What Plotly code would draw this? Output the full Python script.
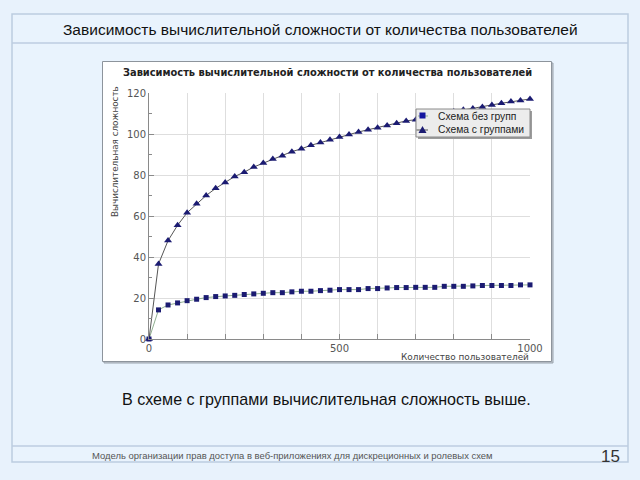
import plotly.graph_objects as go

users = [0, 25, 50, 75, 100, 125, 150, 175, 200, 225, 250, 275, 300, 325, 350, 375, 400,
         425, 450, 475, 500, 525, 550, 575, 600, 625, 650, 675, 700, 725, 750, 775, 800,
         825, 850, 875, 900, 925, 950, 975, 1000]
no_groups = [0, 14.2, 16.6, 17.6, 18.7, 19.4, 20.2, 20.7, 21.0, 21.3, 21.7, 22.0, 22.3, 22.6,
             22.6, 23.0, 23.3, 23.3, 23.6, 23.8, 24.1, 24.1, 24.1, 24.6, 24.6, 24.9, 25.1,
             25.1, 25.2, 25.2, 25.2, 25.7, 25.7, 25.7, 25.9, 26.1, 26.1, 26.1, 26.1, 26.4, 26.4]
with_groups = [0, 36.6, 48.0, 55.5, 61.6, 66.0, 70.0, 73.5, 76.4, 79.3, 81.4, 83.9, 85.8, 87.8,
               89.4, 91.4, 92.8, 94.5, 95.8, 97.2, 98.5, 99.7, 101.0, 102.1, 103.1, 104.2,
               105.2, 106.4, 107.0, 108.0, 109.0, 110.0, 111.0, 111.8, 112.5, 113.2, 114.2,
               115.0, 115.8, 116.3, 117.1]

slide_title = "Зависимость вычислительной сложности от количества пользователей"
chart_title = "Зависимость вычислительной сложности от количества пользователей"
y_title = "Вычислительная сложность"
x_title = "Количество пользователей"
series_names = ["Схема без групп", "Схема с группами"]
body_text = "В схеме с группами вычислительная сложность выше."
footer_text = "Модель организации прав доступа в веб-приложениях для дискреционных и ролевых схем"
page_no = "15"

W, H = 640, 480
def px(x):
    return x / W
def py(y):
    return 1 - y / H

navy = "#1b1b72"
fig = go.Figure()
fig.add_trace(go.Scatter(x=users, y=no_groups, name=series_names[0], mode="lines+markers",
                         line=dict(color="#8fae8f", width=1),
                         marker=dict(symbol="square", size=5, color=navy),
                         cliponaxis=False, showlegend=False))
fig.add_trace(go.Scatter(x=users, y=with_groups, name=series_names[1], mode="lines+markers",
                         line=dict(color="#555555", width=1),
                         marker=dict(symbol="triangle-up", size=7, color=navy),
                         cliponaxis=False, showlegend=False))

def P(x0, y0, x1, y1, **kw):
    return dict(xref="paper", yref="paper", x0=px(x0), x1=px(x1), y0=py(y1), y1=py(y0), **kw)

shapes = [
    # slide frame
    dict(type="rect", **P(12, 14, 628, 462), line=dict(color="#bccde0", width=1.5),
         fillcolor="#e9f3fd", layer="below"),
    dict(type="line", **P(12, 43, 628, 43), line=dict(color="#bccde0", width=1.5), layer="below"),
    dict(type="line", **P(12, 446, 628, 446), line=dict(color="#bccde0", width=1.5), layer="below"),
    # chart image shadow + box
    dict(type="rect", **P(104, 63, 553, 363), line=dict(color="#9aa3ad", width=1),
         fillcolor="#c6ccd3", layer="below"),
    dict(type="rect", **P(102.5, 61.5, 551.5, 361.5), line=dict(color="#8d949c", width=1),
         fillcolor="#ffffff", layer="below"),
    # legend box with shadow
    dict(type="rect", **P(418, 111, 532, 139), line=dict(width=0), fillcolor="#9c9c9c", layer="above"),
    dict(type="rect", **P(416, 109, 530, 137), line=dict(color="#8a8a8a", width=1),
         fillcolor="#ececec", layer="above"),
    # legend glyph lines
    dict(type="line", **P(418, 116, 428, 116), line=dict(color="#8fae8f", width=1), layer="above"),
    dict(type="line", **P(416.5, 130, 428, 130), line=dict(color="#555555", width=1), layer="above"),
    # legend square
    dict(type="rect", **P(419.5, 112.5, 425.5, 118.5), line=dict(width=0), fillcolor="#1515a0", layer="above"),
    # legend triangle
    dict(type="path", xref="paper", yref="paper",
         path="M {} {} L {} {} L {} {} Z".format(px(418.5), py(133), px(426.5), py(133), px(422.5), py(126)),
         line=dict(width=0), fillcolor=navy, layer="above"),
]

annotations = [
    dict(text=slide_title, x=px(320), y=py(29), xref="paper", yref="paper", showarrow=False,
         xanchor="center", yanchor="middle", font=dict(family="Liberation Sans", size=15.5, color="#111111")),
    dict(text="<b>" + chart_title + "</b>", x=px(327), y=py(72), xref="paper", yref="paper", showarrow=False,
         xanchor="center", yanchor="middle", font=dict(family="DejaVu Sans", size=9.85, color="#222222")),
    dict(text=y_title, x=px(115), y=py(152), xref="paper", yref="paper", showarrow=False, textangle=-90,
         xanchor="center", yanchor="middle", font=dict(family="DejaVu Sans", size=8.8, color="#444444")),
    dict(text=x_title, x=px(531), y=py(357), xref="paper", yref="paper", showarrow=False,
         xanchor="right", yanchor="middle", font=dict(family="DejaVu Sans", size=8.9, color="#444444")),
    dict(text=series_names[0], x=px(436), y=py(116), xref="paper", yref="paper", showarrow=False,
         xanchor="left", yanchor="middle", font=dict(family="Liberation Sans", size=10.3, color="#222222")),
    dict(text=series_names[1], x=px(436), y=py(130), xref="paper", yref="paper", showarrow=False,
         xanchor="left", yanchor="middle", font=dict(family="Liberation Sans", size=10.3, color="#222222")),
    dict(text=body_text, x=px(326), y=py(399), xref="paper", yref="paper", showarrow=False,
         xanchor="center", yanchor="middle", font=dict(family="Liberation Sans", size=16.1, color="#111111")),
    dict(text=footer_text, x=px(292), y=py(455), xref="paper", yref="paper", showarrow=False,
         xanchor="center", yanchor="middle", font=dict(family="Liberation Sans", size=9.45, color="#555555")),
    dict(text=page_no, x=px(622), y=py(456), xref="paper", yref="paper", showarrow=False,
         xanchor="right", yanchor="middle", font=dict(family="Liberation Sans", size=17, color="#333333")),
]

fig.update_layout(
    template="none",
    width=W, height=H, margin=dict(l=0, r=0, t=0, b=0, pad=0, autoexpand=False),
    paper_bgcolor="#e8f2fc", plot_bgcolor="#ffffff",
    shapes=shapes, annotations=annotations,
    showlegend=False,
    xaxis=dict(domain=[px(149), px(530)], range=[0, 1000], tickvals=[0, 500, 1000],
               automargin=False,
               showgrid=True, gridcolor="#dedede", gridwidth=1,
               showline=True, linecolor="#8a8a8a", linewidth=1, zeroline=False,
               ticks="inside", ticklen=5, tickcolor="#8a8a8a",
               minor=dict(dtick=100, tick0=0, ticks="inside", ticklen=5, tickcolor="#8a8a8a",
                          showgrid=True, gridcolor="#dedede"),
               tickfont=dict(family="DejaVu Sans", size=10, color="#555555"), ticklabelstandoff=0),
    yaxis=dict(domain=[py(339), py(93)], range=[0, 120], dtick=20, tick0=0,
               automargin=False,
               showgrid=True, gridcolor="#dedede", gridwidth=1,
               showline=True, linecolor="#8a8a8a", linewidth=1, zeroline=False,
               ticks="inside", ticklen=5, tickcolor="#8a8a8a",
               minor=dict(dtick=10, tick0=0, ticks="inside", ticklen=3, tickcolor="#8a8a8a", showgrid=False),
               tickfont=dict(family="DejaVu Sans", size=10, color="#555555")),
)

fig.write_html("out.html")
